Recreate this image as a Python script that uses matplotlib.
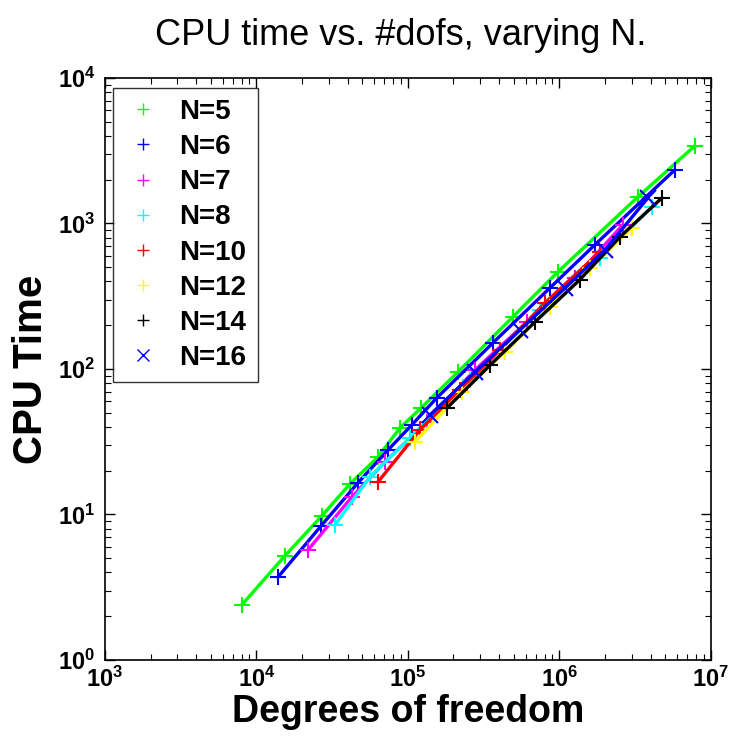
"""
CPU time against number of degrees of freedom, one curve per polynomial order N.
"""

import math

import matplotlib

matplotlib.use("Agg")
import matplotlib.pyplot as plt
from matplotlib.ticker import FuncFormatter, LogLocator

FIG_PATH = "out.png"

plt.rcParams["font.family"] = ["Liberation Sans", "DejaVu Sans"]
plt.rcParams["mathtext.fontset"] = "custom"
plt.rcParams["mathtext.bf"] = "Liberation Sans:bold"
plt.rcParams["mathtext.rm"] = "Liberation Sans:bold"

ORDERS = ["N=5", "N=6", "N=7", "N=8", "N=10", "N=12", "N=14", "N=16"]
COLORS = ["#00ff00", "#0000ff", "#ff00ff", "#00ffff", "#ff0000", "#ffff00", "#000000", "#0000ff"]
MARKERS = ["+", "+", "+", "+", "+", "+", "+", "x"]

# degrees of freedom per run
dofs_n5 = [8.0e3, 1.54e4, 2.70e4, 4.14e4, 6.34e4, 8.86e4, 1.22e5, 2.14e5, 4.93e5, 9.77e5, 3.30e6, 7.83e6]
dofs_n6 = [1.39e4, 2.67e4, 4.68e4, 7.38e4, 1.06e5, 1.55e5, 3.64e5, 8.65e5, 1.71e6, 5.78e6]
dofs_n7 = [2.19e4, 4.27e4, 7.05e4, 1.33e5, 2.77e5, 6.10e5, 1.26e6, 2.62e6]
dofs_n8 = [3.30e4, 5.61e4, 1.03e5, 2.56e5, 7.43e5, 1.85e6, 4.08e6]
dofs_n10 = [6.34e4, 1.20e5, 2.20e5, 4.05e5, 8.02e5, 1.85e6]
dofs_n12 = [1.11e5, 2.27e5, 4.37e5, 8.65e5, 1.59e6, 3.01e6]
dofs_n14 = [1.81e5, 3.48e5, 6.89e5, 1.36e6, 2.51e6, 4.75e6]
dofs_n16 = [1.40e5, 2.77e5, 5.48e5, 1.09e6, 2.00e6, 3.84e6]

# CPU time per run
cpu_n5 = [2.39, 5.19, 9.77, 16.2, 24.8, 39.3, 53.9, 95.3, 228, 464, 1521, 3410]
cpu_n6 = [3.72, 8.34, 16.5, 27.7, 41.2, 63.2, 151, 360, 711, 2333]
cpu_n7 = [5.70, 13.2, 22.9, 43.2, 98.4, 210, 422, 977]
cpu_n8 = [8.47, 18.1, 33.6, 84.0, 254, 579, 1298]
cpu_n10 = [16.7, 38.1, 71.7, 135, 284, 637]
cpu_n12 = [31.5, 69.5, 131, 267, 494, 931]
cpu_n14 = [53.9, 106, 210, 409, 807, 1497]
cpu_n16 = [48.3, 95.3, 185, 360, 658, 1497]

DOFS = [dofs_n5, dofs_n6, dofs_n7, dofs_n8, dofs_n10, dofs_n12, dofs_n14, dofs_n16]
CPU = [cpu_n5, cpu_n6, cpu_n7, cpu_n8, cpu_n10, cpu_n12, cpu_n14, cpu_n16]


def power_label(val, pos):
    exp = int(round(math.log10(val)))
    return r"$\mathbf{10^{%d}}$" % exp


def main() -> None:
    fig = plt.figure(figsize=(7.29, 7.37), dpi=100)
    ax = fig.add_axes([0.144, 0.1045, 0.831, 0.7897])

    # markers only in the legend, lines drawn separately
    handles = []
    for x, y, c, m, name in zip(DOFS, CPU, COLORS, MARKERS, ORDERS):
        ax.plot(x, y, color=c, lw=2.4, marker=m, ms=12, mew=1.5)
        h, = ax.plot([], [], ls="none", color=c, marker=m, ms=8, mew=1.0, label=name)
        handles.append(h)

    ax.set_xscale("log")
    ax.set_yscale("log")
    ax.set_xlim(1e3, 1e7)
    ax.set_ylim(1e0, 1e4)

    for axis in (ax.xaxis, ax.yaxis):
        axis.set_major_locator(LogLocator(base=10))
        axis.set_minor_locator(LogLocator(base=10, subs=range(2, 10)))
        axis.set_major_formatter(FuncFormatter(power_label))
    ax.tick_params(which="both", direction="in", top=True, right=True, labelsize=17)
    ax.tick_params(which="major", length=7, width=1.0, pad=5)
    ax.tick_params(axis="y", which="major", pad=7)
    ax.tick_params(which="minor", length=4, width=0.8)
    for sp in ax.spines.values():
        sp.set_linewidth(1.2)

    ax.set_xlabel("Degrees of freedom", fontsize=27, fontweight="bold")
    ax.xaxis.set_label_coords(0.5, -0.058)
    ax.set_ylabel("CPU Time", fontsize=29, fontweight="bold")
    ax.yaxis.set_label_coords(-0.091, 0.5)
    fig.suptitle("CPU time vs. #dofs, varying N.", fontsize=26, x=0.55, y=0.975)

    leg = ax.legend(
        handles=handles,
        loc="upper left",
        bbox_to_anchor=(0.013, 0.983),
        borderaxespad=0,
        frameon=True,
        fancybox=False,
        prop={"size": 20, "weight": "bold"},
        labelspacing=0.33,
        handlelength=1.4,
        handletextpad=0.6,
        borderpad=0.4,
    )
    leg.get_frame().set_edgecolor("black")
    leg.get_frame().set_linewidth(1.0)

    fig.savefig(FIG_PATH, dpi=100)
    plt.close(fig)


if __name__ == "__main__":
    main()
